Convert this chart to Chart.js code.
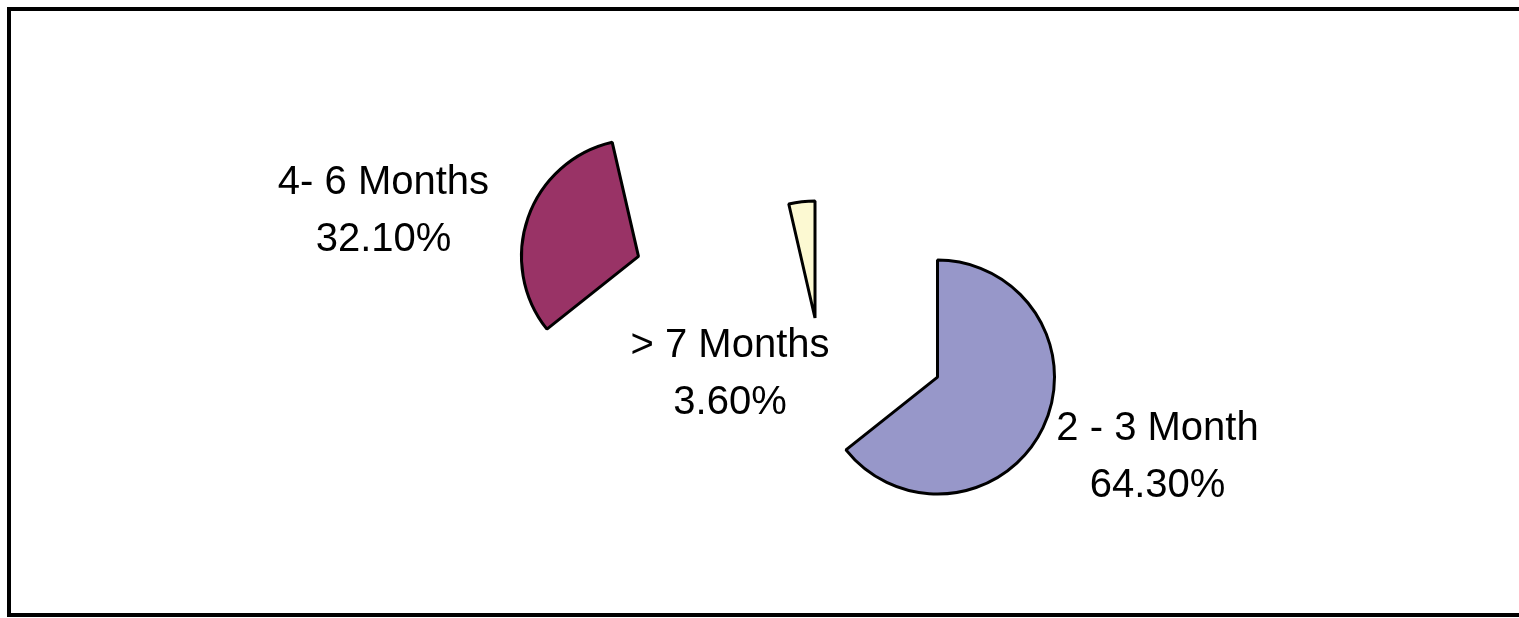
<!DOCTYPE html>
<html>
<head>
<meta charset="utf-8">
<script src="https://cdn.jsdelivr.net/npm/chart.js@4"></script>
<style>
  html, body { margin: 0; padding: 0; background: #fff; overflow: hidden; }
  #frame { position: absolute; left: 7px; top: 7px; width: 1540px; height: 602px; border: 4px solid #000; }
  #wrap { position: absolute; left: 0; top: 0; width: 1519px; height: 618px; }
</style>
</head>
<body>
<div id="frame"></div>
<div id="wrap"><canvas id="c"></canvas></div>
<script>
// ---- data ----
const categories = ['2 - 3 Month', '4- 6 Months', '> 7 Months'];
const shares = [64.3, 32.1, 3.6];
const valueLabels = shares.map(v => v.toFixed(2) + '%');

// ---- style ----
const sliceColors = ['#9797C9', '#993366', '#FCF9D2'];
const explode = [136, 187, 0];              // radial pull-out of each slice, px
const labelShift = [[220, 63], [-255, -62], [-85, 39]]; // label first baseline relative to slice tip
const labelLineGap = 57;
const labelFont = '40px "Liberation Sans", Arial, sans-serif';

const explodePlugin = {
  id: 'explode',
  beforeDatasetDraw(chart, args) {
    const ctx = chart.ctx;
    args.meta.data.forEach((arc, i) => {
      const mid = (arc.startAngle + arc.endAngle) / 2;
      const d = explode[i];
      ctx.save();
      ctx.translate(Math.cos(mid) * d, Math.sin(mid) * d);
      arc.draw(ctx);
      ctx.restore();
    });
    return false;
  },
  afterDatasetsDraw(chart) {
    const ctx = chart.ctx;
    const meta = chart.getDatasetMeta(0);
    ctx.save();
    ctx.font = labelFont;
    ctx.fillStyle = '#000';
    ctx.textAlign = 'center';
    ctx.textBaseline = 'alphabetic';
    meta.data.forEach((arc, i) => {
      const mid = (arc.startAngle + arc.endAngle) / 2;
      const d = explode[i];
      const x = arc.x + Math.cos(mid) * d + labelShift[i][0];
      const y = arc.y + Math.sin(mid) * d + labelShift[i][1];
      ctx.fillText(categories[i], x, y);
      ctx.fillText(valueLabels[i], x, y + labelLineGap);
    });
    ctx.restore();
  }
};

new Chart(document.getElementById('c'), {
  type: 'pie',
  data: {
    labels: categories,
    datasets: [{
      data: shares,
      backgroundColor: sliceColors,
      borderColor: '#000',
      borderWidth: 3,
      borderJoinStyle: 'bevel'
    }]
  },
  options: {
    responsive: true,
    maintainAspectRatio: false,
    animation: false,
    radius: 117,
    layout: { padding: { left: 111, right: 0, top: 18, bottom: 0 } },
    plugins: {
      legend: { display: false },
      tooltip: { enabled: false },
      title: { display: false }
    }
  },
  plugins: [explodePlugin]
});
</script>
</body>
</html>
